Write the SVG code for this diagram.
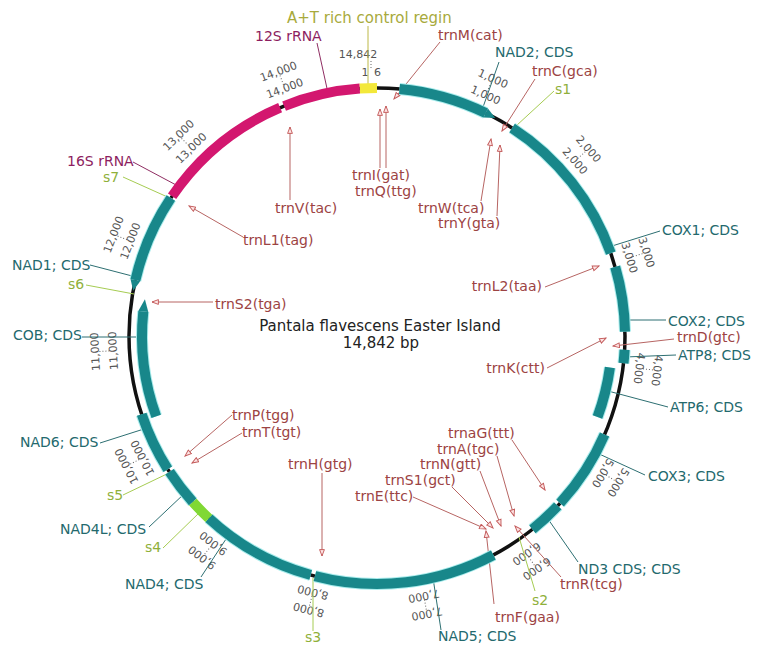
<svg xmlns="http://www.w3.org/2000/svg" width="757" height="645" viewBox="0 0 757 645">
  <defs>
    <style>
      .bb { fill: none; stroke: #111; stroke-width: 3.5; }
      .halo { fill: none; stroke: #a8ecec; stroke-width: 12; }
      .cds { fill: none; stroke: #18878a; stroke-width: 10; }
      .tip { fill: #18878a; }
      .rrna { fill: none; stroke: #d3176f; stroke-width: 10; }
      .ctrl { fill: none; stroke: #f3e83a; stroke-width: 10; }
      .misc { fill: none; stroke: #80d834; stroke-width: 10; }
      text { font-family: "DejaVu Sans", Verdana, sans-serif; }
      .lb { font-size: 14px; }
      .tc { fill: #23696d; }
      .tt { fill: #9c4343; }
      .ts { fill: #8fb03a; }
      .tr { fill: #8d1e60; }
      .ta { fill: #a8aa3c; font-size: 15px; }
      .title { font-size: 15px; fill: #222; text-anchor: middle; }
      .tl { font-size: 11px; fill: #555; text-anchor: middle; dominant-baseline: central; }
      .tk { stroke: #666; stroke-width: 1; stroke-dasharray: 1 2; }
      .lc { stroke: #2d6f72; stroke-width: 1; fill: none; }
      .lr { stroke: #8f2d62; stroke-width: 1; fill: none; }
      .ls { stroke: #a6cc52; stroke-width: 1; fill: none; }
      .la { stroke: #bdb847; stroke-width: 1; fill: none; }
      .lt { stroke: #b76563; stroke-width: 1; fill: none; marker-end: url(#ah); }
    </style>
    <marker id="ah" viewBox="0 0 10 8" refX="9" refY="4" markerWidth="8" markerHeight="6.4" markerUnits="userSpaceOnUse" orient="auto">
      <path d="M1,1 L9,4 L1,7 Z" fill="#fde3e3" stroke="#c45c5c" stroke-width="1.2"/>
    </marker>
  </defs>

  <rect width="757" height="645" fill="#fff"/>

  <!-- sequence backbone -->
  <circle class="bb" cx="377" cy="336" r="248"/>

  <!-- ruler: ticks every 1,000 bp, two label rings -->
  <g id="ruler">
    <g>
      <text class="tl" x="358" y="54">14,842</text>
      <text class="tl" x="365" y="72">1</text>
      <text class="tl" x="377.5" y="72">6</text>
      <line class="tk" x1="371" y1="61" x2="371" y2="70"/>
    </g>
    <g transform="rotate(24.256 377 336)"><line class="tk" x1="377" y1="58" x2="377" y2="68"/><text class="tl" x="377" y="72">1,000</text><text class="tl" x="377" y="54">1,000</text></g>
    <g transform="rotate(48.511 377 336)"><line class="tk" x1="377" y1="58" x2="377" y2="68"/><text class="tl" x="377" y="72">2,000</text><text class="tl" x="377" y="54">2,000</text></g>
    <g transform="rotate(72.767 377 336)"><line class="tk" x1="377" y1="58" x2="377" y2="68"/><text class="tl" x="377" y="72">3,000</text><text class="tl" x="377" y="54">3,000</text></g>
    <g transform="rotate(97.022 377 336)"><line class="tk" x1="377" y1="58" x2="377" y2="68"/><text class="tl" x="377" y="72">4,000</text><text class="tl" x="377" y="54">4,000</text></g>
    <g transform="rotate(121.278 377 336)"><line class="tk" x1="377" y1="58" x2="377" y2="68"/><text class="tl" x="377" y="72">5,000</text><text class="tl" x="377" y="54">5,000</text></g>
    <g transform="rotate(145.533 377 336)"><line class="tk" x1="377" y1="58" x2="377" y2="68"/><text class="tl" x="377" y="72">6,000</text><text class="tl" x="377" y="54">6,000</text></g>
    <g transform="rotate(169.789 377 336)"><line class="tk" x1="377" y1="58" x2="377" y2="68"/><text class="tl" x="377" y="72">7,000</text><text class="tl" x="377" y="54">7,000</text></g>
    <g transform="rotate(194.044 377 336)"><line class="tk" x1="377" y1="58" x2="377" y2="68"/><text class="tl" x="377" y="72">8,000</text><text class="tl" x="377" y="54">8,000</text></g>
    <g transform="rotate(218.300 377 336)"><line class="tk" x1="377" y1="58" x2="377" y2="68"/><text class="tl" x="377" y="72">9,000</text><text class="tl" x="377" y="54">9,000</text></g>
    <g transform="rotate(242.555 377 336)"><line class="tk" x1="377" y1="58" x2="377" y2="68"/><text class="tl" x="377" y="72">10,000</text><text class="tl" x="377" y="54">10,000</text></g>
    <g transform="rotate(266.811 377 336)"><line class="tk" x1="377" y1="58" x2="377" y2="68"/><text class="tl" x="377" y="72">11,000</text><text class="tl" x="377" y="54">11,000</text></g>
    <g transform="rotate(291.066 377 336)"><line class="tk" x1="377" y1="58" x2="377" y2="68"/><text class="tl" x="377" y="72">12,000</text><text class="tl" x="377" y="54">12,000</text></g>
    <g transform="rotate(315.322 377 336)"><line class="tk" x1="377" y1="58" x2="377" y2="68"/><text class="tl" x="377" y="72">13,000</text><text class="tl" x="377" y="54">13,000</text></g>
    <g transform="rotate(339.577 377 336)"><line class="tk" x1="377" y1="58" x2="377" y2="68"/><text class="tl" x="377" y="72">14,000</text><text class="tl" x="377" y="54">14,000</text></g>
  </g>

  <!-- connectors: label leaders -->
  <g id="connectors">
    <line class="la" x1="368" y1="26" x2="368" y2="89"/>
    <line class="lr" x1="317" y1="43" x2="328" y2="93"/>
    <line class="lr" x1="133" y1="162" x2="178" y2="186"/>
    <line class="lc" x1="499" y1="62" x2="482" y2="110"/>
    <line class="lc" x1="660" y1="231" x2="612" y2="246"/>
    <line class="lc" x1="666" y1="320" x2="625" y2="320"/>
    <line class="lc" x1="676" y1="355" x2="625" y2="357"/>
    <line class="lc" x1="668" y1="407" x2="608" y2="391"/>
    <line class="lc" x1="645" y1="475" x2="597" y2="453"/>
    <line class="lc" x1="578" y1="562" x2="548" y2="519"/>
    <line class="lc" x1="441" y1="630" x2="433" y2="578"/>
    <line class="lc" x1="201" y1="577" x2="228" y2="536"/>
    <line class="lc" x1="149" y1="527" x2="185" y2="493"/>
    <line class="lc" x1="100" y1="443" x2="147" y2="428"/>
    <line class="lc" x1="82" y1="337" x2="143" y2="337"/>
    <line class="lc" x1="90" y1="265" x2="136" y2="277"/>
    <line class="ls" x1="554" y1="91" x2="516" y2="126"/>
    <line class="ls" x1="535" y1="591" x2="519" y2="537"/>
    <line class="ls" x1="313" y1="631" x2="313" y2="578"/>
    <line class="ls" x1="163" y1="548" x2="200" y2="512"/>
    <line class="ls" x1="123" y1="495" x2="171" y2="472"/>
    <line class="ls" x1="86" y1="285" x2="134" y2="294"/>
    <line class="ls" x1="123" y1="177" x2="172" y2="199"/>
    <line class="lt" x1="440" y1="42" x2="394" y2="99"/>
    <line class="lt" x1="535" y1="79" x2="502" y2="131"/>
    <line class="lt" x1="481" y1="201" x2="491" y2="139"/>
    <line class="lt" x1="497" y1="216" x2="500" y2="145"/>
    <line class="lt" x1="380" y1="168" x2="380" y2="109"/>
    <line class="lt" x1="386" y1="168" x2="386" y2="106"/>
    <line class="lt" x1="290" y1="200" x2="290" y2="127"/>
    <line class="lt" x1="243" y1="237" x2="189" y2="206"/>
    <line class="lt" x1="213" y1="302" x2="152" y2="302"/>
    <line class="lt" x1="545" y1="287" x2="599" y2="266"/>
    <line class="lt" x1="547" y1="368" x2="606" y2="338"/>
    <line class="lt" x1="674" y1="339" x2="613" y2="346"/>
    <line class="lt" x1="512" y1="440" x2="545" y2="490"/>
    <line class="lt" x1="497" y1="456" x2="514" y2="516"/>
    <line class="lt" x1="480" y1="471" x2="501" y2="526"/>
    <line class="lt" x1="452" y1="487" x2="493" y2="528"/>
    <line class="lt" x1="413" y1="497" x2="486" y2="529"/>
    <line class="lt" x1="561" y1="577" x2="515" y2="526"/>
    <line class="lt" x1="494" y1="604" x2="486" y2="531"/>
    <line class="lt" x1="322" y1="473" x2="322" y2="556"/>
    <line class="lt" x1="232" y1="415" x2="185" y2="456"/>
    <line class="lt" x1="242" y1="433" x2="192" y2="463"/>
  </g>

  <!-- annotated features -->
  <g id="at-rich">
    <path class="ctrl" d="M359.7,88.6 A248,248 0 0 1 377,88"/>
    <text class="ta" x="287" y="23">A+T rich control regin</text>
  </g>
  <g id="rrna12s">
    <path class="rrna" d="M284.1,106.1 A248,248 0 0 1 359.7,88.6"/>
    <text class="lb tr" x="255" y="41">12S rRNA</text>
  </g>
  <g id="rrna16s">
    <path class="rrna" d="M172.1,196.2 A248,248 0 0 1 280.1,107.7"/>
    <text class="lb tr" x="67" y="166">16S rRNA</text>
  </g>
  <g id="nad2">
    <path class="halo" d="M399.5,89.0 A248,248 0 0 1 485.7,113.1"/>
    <path class="cds" d="M399.5,89.0 A248,248 0 0 1 485.7,113.1"/>
    <path class="tip" d="M483.5,117.6 L487.9,108.6 L495.3,118.1 Z"/>
    <text class="lb tc" x="495" y="57">NAD2; CDS</text>
  </g>
  <g id="cox1">
    <path class="halo" d="M512.1,128.0 A248,248 0 0 1 610.8,253.2"/>
    <path class="cds" d="M512.1,128.0 A248,248 0 0 1 610.8,253.2"/>
    <text class="lb tc" x="662" y="235">COX1; CDS</text>
  </g>
  <g id="cox2">
    <path class="halo" d="M615.2,266.8 A248,248 0 0 1 625.0,331.7"/>
    <path class="cds" d="M615.2,266.8 A248,248 0 0 1 625.0,331.7"/>
    <text class="lb tc" x="668" y="326">COX2; CDS</text>
  </g>
  <g id="atp8">
    <path class="halo" d="M624.6,349.8 A248,248 0 0 1 623.5,363.2"/>
    <path class="cds" d="M624.6,349.8 A248,248 0 0 1 623.5,363.2"/>
    <text class="lb tc" x="678" y="360">ATP8; CDS</text>
  </g>
  <g id="atp6">
    <path class="halo" d="M609.9,367.5 A235,235 0 0 1 597.5,417.1"/>
    <path class="cds" d="M609.9,367.5 A235,235 0 0 1 597.5,417.1"/>
    <text class="lb tc" x="670" y="412">ATP6; CDS</text>
  </g>
  <g id="cox3">
    <path class="halo" d="M604.6,434.5 A248,248 0 0 1 560.1,503.2"/>
    <path class="cds" d="M604.6,434.5 A248,248 0 0 1 560.1,503.2"/>
    <text class="lb tc" x="648" y="481">COX3; CDS</text>
  </g>
  <g id="nd3">
    <path class="halo" d="M557.8,505.8 A248,248 0 0 1 532.4,529.3"/>
    <path class="cds" d="M557.8,505.8 A248,248 0 0 1 532.4,529.3"/>
    <text class="lb tc" x="578" y="574">ND3 CDS; CDS</text>
  </g>
  <g id="nad5">
    <path class="halo" d="M493.4,555.0 A248,248 0 0 1 314.9,576.1"/>
    <path class="cds" d="M493.4,555.0 A248,248 0 0 1 314.9,576.1"/>
    <text class="lb tc" x="438" y="641">NAD5; CDS</text>
  </g>
  <g id="nad4">
    <path class="halo" d="M310.7,575.0 A248,248 0 0 1 208.8,518.3"/>
    <path class="cds" d="M310.7,575.0 A248,248 0 0 1 208.8,518.3"/>
    <text class="lb tc" x="125" y="589">NAD4; CDS</text>
  </g>
  <g id="s4">
    <path class="misc" d="M208.8,518.3 A248,248 0 0 1 192.7,501.9"/>
    <text class="lb ts" x="145" y="552">s4</text>
  </g>
  <g id="nad4l">
    <path class="halo" d="M192.7,501.9 A248,248 0 0 1 169.5,471.8"/>
    <path class="cds" d="M192.7,501.9 A248,248 0 0 1 169.5,471.8"/>
    <text class="lb tc" x="60" y="534">NAD4L; CDS</text>
  </g>
  <g id="nad6">
    <path class="halo" d="M167.8,469.3 A248,248 0 0 1 141.7,414.3"/>
    <path class="cds" d="M167.8,469.3 A248,248 0 0 1 141.7,414.3"/>
    <text class="lb tc" x="20" y="447">NAD6; CDS</text>
  </g>
  <g id="cob">
    <path class="halo" d="M156.2,416.4 A235,235 0 0 1 143.3,311.4"/>
    <path class="cds" d="M156.2,416.4 A235,235 0 0 1 143.3,311.4"/>
    <path class="tip" d="M148.3,312.0 L138.3,310.9 L144.9,299.2 Z"/>
    <text class="lb tc" x="13" y="340">COB; CDS</text>
  </g>
  <g id="nad1">
    <path class="halo" d="M135.4,280.2 A248,248 0 0 1 170.9,198.0"/>
    <path class="cds" d="M135.4,280.2 A248,248 0 0 1 170.9,198.0"/>
    <path class="tip" d="M140.2,281.3 L130.5,279.1 L133.2,290.8 Z"/>
    <text class="lb tc" x="12" y="270">NAD1; CDS</text>
  </g>

  <!-- spacer labels -->
  <g id="s1"><text class="lb ts" x="555" y="94">s1</text></g>
  <g id="s2"><text class="lb ts" x="532" y="605">s2</text></g>
  <g id="s3"><text class="lb ts" x="305" y="642">s3</text></g>
  <g id="s5"><text class="lb ts" x="107" y="500">s5</text></g>
  <g id="s6"><text class="lb ts" x="68" y="289">s6</text></g>
  <g id="s7"><text class="lb ts" x="103" y="182">s7</text></g>

  <!-- tRNA labels -->
  <g id="trnM"><text class="lb tt" x="438" y="40">trnM(cat)</text></g>
  <g id="trnC"><text class="lb tt" x="532" y="76">trnC(gca)</text></g>
  <g id="trnW"><text class="lb tt" x="418" y="213">trnW(tca)</text></g>
  <g id="trnY"><text class="lb tt" x="438" y="228">trnY(gta)</text></g>
  <g id="trnI"><text class="lb tt" x="352" y="180">trnI(gat)</text></g>
  <g id="trnQ"><text class="lb tt" x="355" y="196">trnQ(ttg)</text></g>
  <g id="trnV"><text class="lb tt" x="275" y="213">trnV(tac)</text></g>
  <g id="trnL1"><text class="lb tt" x="243" y="245">trnL1(tag)</text></g>
  <g id="trnS2"><text class="lb tt" x="215" y="309">trnS2(tga)</text></g>
  <g id="trnL2"><text class="lb tt" x="542" y="291" text-anchor="end">trnL2(taa)</text></g>
  <g id="trnK"><text class="lb tt" x="545" y="373" text-anchor="end">trnK(ctt)</text></g>
  <g id="trnD"><text class="lb tt" x="677" y="342">trnD(gtc)</text></g>
  <g id="trnG"><text class="lb tt" x="448" y="438">trnaG(ttt)</text></g>
  <g id="trnA"><text class="lb tt" x="437" y="454">trnA(tgc)</text></g>
  <g id="trnN"><text class="lb tt" x="420" y="469">trnN(gtt)</text></g>
  <g id="trnS1"><text class="lb tt" x="385" y="485">trnS1(gct)</text></g>
  <g id="trnE"><text class="lb tt" x="355" y="501">trnE(ttc)</text></g>
  <g id="trnR"><text class="lb tt" x="560" y="589">trnR(tcg)</text></g>
  <g id="trnF"><text class="lb tt" x="495" y="622">trnF(gaa)</text></g>
  <g id="trnH"><text class="lb tt" x="288" y="469">trnH(gtg)</text></g>
  <g id="trnP"><text class="lb tt" x="232" y="420">trnP(tgg)</text></g>
  <g id="trnT"><text class="lb tt" x="242" y="437">trnT(tgt)</text></g>

  <!-- title -->
  <g id="title">
    <text class="title" x="380" y="331">Pantala flavescens Easter Island</text>
    <text class="title" x="381" y="348">14,842 bp</text>
  </g>
</svg>
